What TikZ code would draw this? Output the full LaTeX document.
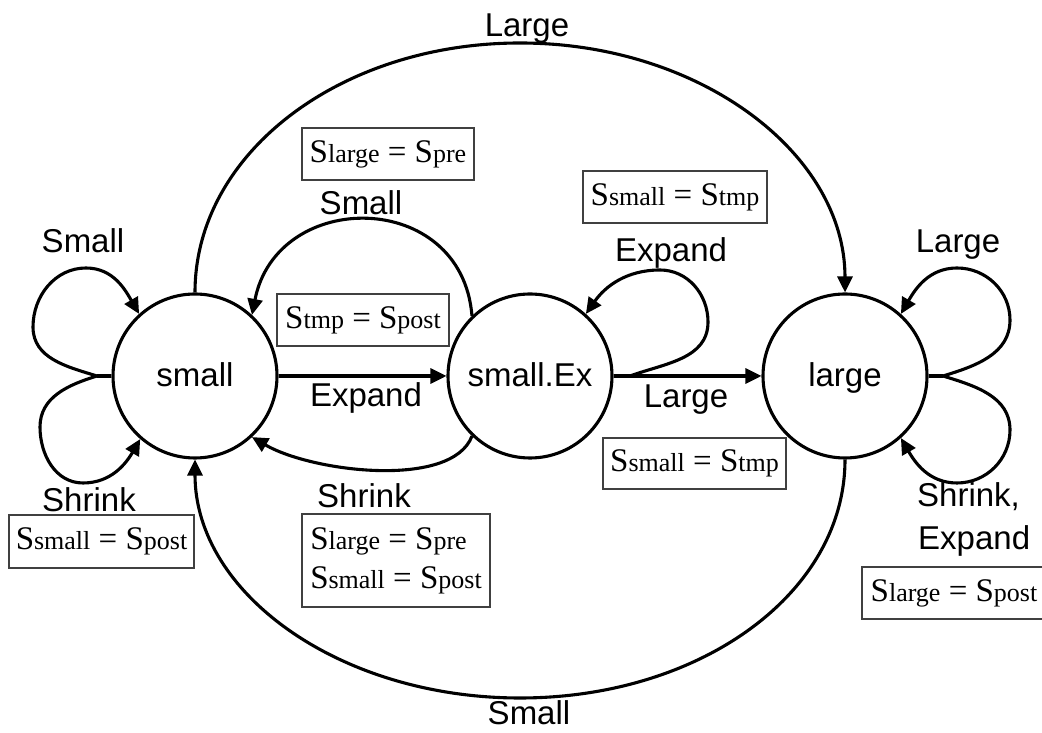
\documentclass[tikz,border=0pt]{standalone}
\usepackage{fontspec}
\setmainfont{Liberation Serif}
\newfontfamily\lsans{Liberation Sans}
\usetikzlibrary{arrows.meta}
% state variable: large S with a smaller name set on the same baseline
\newcommand{\Sv}[1]{S{\fontsize{26}{26}\selectfont #1}}

\begin{document}
\begin{tikzpicture}[x=1pt,y=1pt,
  state/.style={circle, draw, line width=3.1pt, minimum size=164pt, inner sep=0pt,
                text height=24pt, text depth=2pt,
                font=\lsans\fontsize{33}{40}\selectfont},
  edge/.style={line width=3.1pt, -{Triangle[length=16pt,width=15pt]}},
  plain/.style={line width=3.1pt},
  lbl/.style={font=\lsans\fontsize{33}{40}\selectfont, inner sep=0pt, anchor=base},
  eqbox/.style={draw=black!75, line width=1.4pt, inner sep=0pt,
                font=\fontsize{33}{39}\selectfont, align=left},
]
\useasboundingbox (0,0) rectangle (1042,733);

% states
\node[state] (small)   at (195,357) {small};
\node[state] (smallEx) at (530,357) {small.Ex};
\node[state] (large)   at (845,357) {large};

% straight transitions
\draw[edge] (small.east) -- (smallEx.west);
\draw[edge] (smallEx.east) -- (large.west);

% outer arcs
\coordinate (topPeak) at (520,690);
\draw[edge] (small.north) .. controls +(0,139) and +(-180,0) .. (topPeak)
            .. controls +(180,0) and +(0,139) .. (large.north);
\coordinate (botPeak) at (520,35);
\draw[edge] (large.south) .. controls +(0,-134) and +(180,0) .. (botPeak)
            .. controls +(-180,0) and +(0,-134) .. (small.south);

% arcs between small.Ex and small
\draw[edge] (smallEx.134) .. controls +(-10,127) and +(25,127) .. (small.47);
\draw[edge] (smallEx.226) .. controls +(-20,-53) and +(60,-35) .. (small.313);

% self loops of small
\coordinate (sStem) at (97,357);
\coordinate (sTopL) at (33,406);
\coordinate (sTopT) at (86,465);
\coordinate (sBotL) at (40,306);
\coordinate (sBotB) at (83,250);
\draw[plain] (small.west) -- (sStem);
\draw[edge] (sStem) to[out=163,in=270] (sTopL) to[out=90,in=180] (sTopT)
            to[out=0,in=120] (small.132);
\draw[edge] (sStem) to[out=197,in=90] (sBotL) to[out=270,in=180] (sBotB)
            to[out=0,in=240] (small.229);

% self loop of small.Ex
\coordinate (xStem) at (630,357);
\coordinate (xR) at (708,411);
\coordinate (xT) at (660,463);
\draw[edge] (xStem) to[out=20,in=270] (xR) to[out=90,in=0] (xT)
            to[out=180,in=55] (smallEx.48);

% self loops of large
\coordinate (lStem) at (943,357);
\coordinate (lTopR) at (1010,413);
\coordinate (lTopT) at (957,465);
\coordinate (lBotR) at (1010,303);
\coordinate (lBotB) at (957,250);
\draw[plain] (large.east) -- (lStem);
\draw[edge] (lStem) to[out=17,in=270] (lTopR) to[out=90,in=0] (lTopT)
            to[out=180,in=60] (large.48);
\draw[edge] (lStem) to[out=-17,in=90] (lBotR) to[out=270,in=0] (lBotB)
            to[out=180,in=-60] (large.312);

% transition labels
\node[lbl] (tLargeTop)  at (527,696) {Large};
\node[lbl] (tSmallBot)  at (529,8)   {Small};
\node[lbl] (tSmallLoop) at (83,480)  {Small};
\node[lbl] (tShrinkL)   at (89,221)  {Shrink};
\node[lbl] (tSmallMid)  at (361,518) {Small};
\node[lbl] (tExpandX)   at (671,471) {Expand};
\node[lbl] (tExpand)    at (366,326) {Expand};
\node[lbl] (tLargeMid)  at (686,325) {Large};
\node[lbl] (tShrinkMid) at (364,225) {Shrink};
\node[lbl] (tLargeLoop) at (958,480) {Large};
\node[lbl, anchor=base west] (tShrinkR) at (917,226) {Shrink,};
\node[lbl, anchor=base west] (tExpandR) at (918,183) {Expand};

% actions
\node[eqbox, minimum width=172pt, minimum height=52pt] (aPre)   at (388,579)
  {\Sv{large} = \Sv{pre}};
\node[eqbox, minimum width=172pt, minimum height=52pt] (aTmp)   at (363,413)
  {\Sv{tmp} = \Sv{post}};
\node[eqbox, minimum width=184pt, minimum height=52pt] (aSmTop) at (675,536)
  {\Sv{small} = \Sv{tmp}};
\node[eqbox, minimum width=183pt, minimum height=51pt] (aSmMid) at (694.5,269.5)
  {\Sv{small} = \Sv{tmp}};
\node[eqbox, minimum width=185pt, minimum height=53pt] (aSmL)   at (101.5,191.5)
  {\Sv{small} = \Sv{post}};
\node[eqbox, minimum width=188pt, minimum height=93pt] (aTwo)   at (396,172.5)
  {\Sv{large} = \Sv{pre}\\ \Sv{small} = \Sv{post}};
\node[eqbox, minimum width=184pt, minimum height=52pt] (aLgR)   at (954,140)
  {\Sv{large} = \Sv{post}};
\end{tikzpicture}
\end{document}
